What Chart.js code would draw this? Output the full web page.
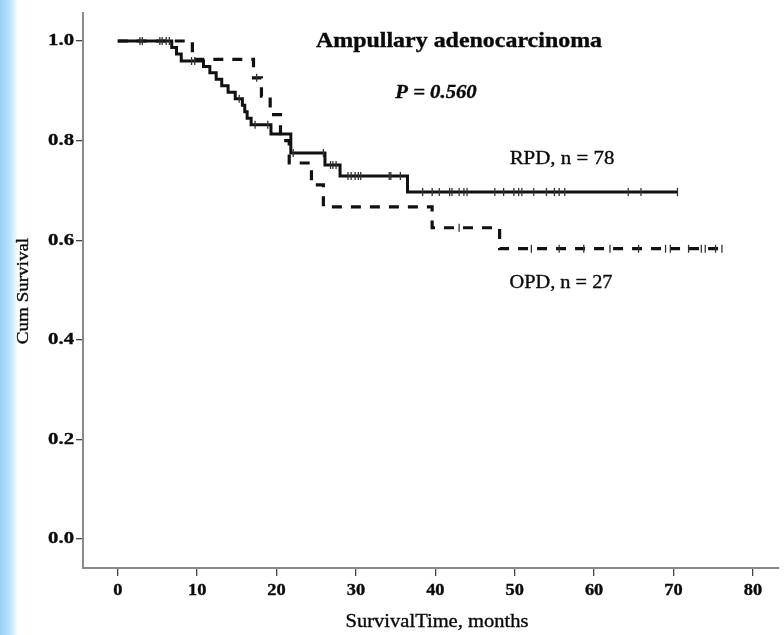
<!DOCTYPE html>
<html><head><meta charset="utf-8">
<script src="https://cdn.jsdelivr.net/npm/chart.js@4.4.1/dist/chart.umd.min.js"></script>
<style>html,body{margin:0;padding:0;background:#fff;} #wrap{width:784px;height:635px;}</style>
</head><body><div id="wrap"><canvas id="c" width="784" height="635"></canvas></div>
<script>
// ---- data ----
const xTickLabels = [0, 10, 20, 30, 40, 50, 60, 70, 80];
const yTickLabels = [0.0, 0.2, 0.4, 0.6, 0.8, 1.0];

// RPD (solid): step times (months) and survival after each step
const rpdTimes = [0, 6.8, 7.4, 8.0, 10.8, 11.6, 12.4, 13.1, 13.9, 14.8, 15.7, 16.0, 16.3, 16.8, 19.3, 21.8, 26.1, 28.0, 36.5, 70.5];
const rpdSurv  = [1.0, 0.987, 0.974, 0.960, 0.949, 0.936, 0.923, 0.910, 0.897, 0.884, 0.871, 0.858, 0.845, 0.832, 0.813, 0.775, 0.751, 0.729, 0.697, 0.697];
const rpdCensor = [2.8, 3.1, 5.3, 5.6, 6.1, 6.5, 9.3, 9.7, 15.3, 17.3, 18.9, 22.1, 25.9, 26.8, 27.1, 27.5,
  29.0, 29.4, 29.9, 30.3, 30.6, 34.2, 34.4, 35.6, 38.4, 39.6, 40.5, 41.8, 42.1, 43.0, 43.6, 44.0,
  47.5, 48.6, 49.9, 50.5, 50.9, 52.4, 54.0, 55.0, 55.6, 56.3, 64.3, 65.9, 70.5];

// OPD (dashed)
const opdTimes = [0, 9.4, 17.1, 18.1, 19.2, 20.5, 21.6, 24.4, 25.9, 39.6, 48.1, 76.1];
const opdSurv  = [1.0, 0.963, 0.926, 0.889, 0.852, 0.800, 0.755, 0.711, 0.667, 0.625, 0.583, 0.583];
const opdCensor = [17.5, 43.0, 52.1, 55.6, 58.7, 62.0, 65.6, 69.0, 69.6, 71.9, 73.5, 74.0, 75.3, 76.1];

function survAt(times, surv, t) {
  let s = surv[0];
  for (let i = 0; i < times.length; i++) { if (times[i] <= t) s = surv[i]; }
  return s;
}
const pts = (ts, ss) => ts.map((t, i) => ({x: t, y: ss[i]}));
const cens = (cs, ts, ss) => cs.map(t => ({x: t, y: survAt(ts, ss, t)}));

function sText(ctx, text, x, y, font, sx, align, rot) {
  ctx.save();
  ctx.translate(x, y);
  if (rot) ctx.rotate(rot);
  ctx.scale(sx, 1);
  ctx.font = font;
  ctx.fillStyle = '#0a0a0a';
  ctx.strokeStyle = '#0a0a0a';
  ctx.lineWidth = 0.35;
  ctx.textAlign = align;
  ctx.textBaseline = 'middle';
  ctx.fillText(text, 0, 0);
  ctx.strokeText(text, 0, 0);
  ctx.restore();
}

const bgPlugin = {
  id: 'bg',
  beforeDraw(chart) {
    const ctx = chart.ctx;
    ctx.save();
    ctx.fillStyle = '#fff';
    ctx.fillRect(0, 0, chart.width, chart.height);
    const g = ctx.createLinearGradient(0, 0, 18, 0);
    g.addColorStop(0, 'rgb(150,208,245)');
    g.addColorStop(0.55, 'rgb(188,227,250)');
    g.addColorStop(1, 'rgba(255,255,255,1)');
    ctx.fillStyle = g;
    ctx.fillRect(0, 0, 18, chart.height);
    ctx.restore();
  }
};

const textPlugin = {
  id: 'texts',
  afterDraw(chart) {
    const ctx = chart.ctx;
    const xs = chart.scales.x, ys = chart.scales.y;
    const serif = '"Liberation Serif", "Times New Roman", serif';
    ys.ticks.forEach(t => {
      sText(ctx, t.value.toFixed(1), 74, ys.getPixelForValue(t.value), 'bold 17px ' + serif, 1.22, 'right');
    });
    xs.ticks.forEach(t => {
      sText(ctx, String(t.value), xs.getPixelForValue(t.value), 591, 'bold 17px ' + serif, 1.08, 'center');
    });
    sText(ctx, 'SurvivalTime, months', 437, 622, '18px ' + serif, 1.14, 'center');
    sText(ctx, 'Cum Survival', 24, 291, '17px ' + serif, 1.12, 'center', -Math.PI / 2);
    sText(ctx, 'Ampullary adenocarcinoma', 459, 42, 'bold 21px ' + serif, 1.14, 'center');
    sText(ctx, 'P = 0.560', 436, 93, 'italic bold 18px ' + serif, 1.15, 'center');
    sText(ctx, 'RPD, n = 78', 562, 159, '19px ' + serif, 1.1, 'center');
    sText(ctx, 'OPD, n = 27', 561, 283, '19px ' + serif, 1.07, 'center');
  }
};

new Chart(document.getElementById('c'), {
  type: 'line',
  data: {
    datasets: [
      { label: 'RPD', data: pts(rpdTimes, rpdSurv), stepped: 'before', borderColor: '#111', borderWidth: 3,
        pointRadius: 0, fill: false, order: 2 },
      { label: 'OPD', data: pts(opdTimes, opdSurv), stepped: 'before', borderColor: '#111', borderWidth: 3.2,
        borderDash: [10, 9], pointRadius: 0, fill: false, order: 1 },
      { label: 'RPD censored', type: 'scatter', data: cens(rpdCensor, rpdTimes, rpdSurv), showLine: false,
        pointStyle: 'line', rotation: 90, pointRadius: 4, borderColor: '#333', borderWidth: 1.3, order: 0 },
      { label: 'OPD censored', type: 'scatter', data: cens(opdCensor, opdTimes, opdSurv), showLine: false,
        pointStyle: 'line', rotation: 90, pointRadius: 4, borderColor: '#333', borderWidth: 1.3, order: 0 }
    ]
  },
  options: {
    responsive: false,
    animation: false,
    devicePixelRatio: 1,
    layout: { padding: { left: 0, top: 13, right: 0, bottom: 0 } },
    plugins: { legend: { display: false }, tooltip: { enabled: false }, title: { display: false } },
    scales: {
      x: {
        type: 'linear', min: -4.375, max: 83.25,
        afterBuildTicks: s => { s.ticks = xTickLabels.map(v => ({value: v})); },
        afterFit: s => { s.height = 67; },
        ticks: { display: false },
        grid: { display: true, drawOnChartArea: false, drawTicks: true, tickLength: 8, color: '#444', lineWidth: 1.3 },
        border: { display: true, color: '#8a8a8a', width: 2 }
      },
      y: {
        type: 'linear', min: -0.0582, max: 1.0562,
        afterBuildTicks: s => { s.ticks = yTickLabels.map(v => ({value: v})); },
        afterFit: s => { s.width = 83; },
        ticks: { display: false },
        grid: { display: true, drawOnChartArea: false, drawTicks: true, tickLength: 7, color: '#444', lineWidth: 1.3 },
        border: { display: true, color: '#8a8a8a', width: 2 }
      }
    }
  },
  plugins: [bgPlugin, textPlugin]
});
</script>
</body></html>
